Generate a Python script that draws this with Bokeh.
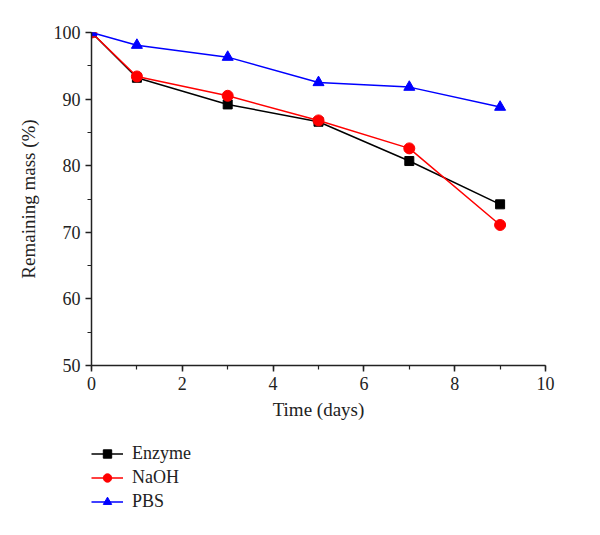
from bokeh.plotting import figure
from bokeh.layouts import column
from bokeh.models import Legend, LegendItem, FixedTicker, Range1d
from bokeh.embed import file_html
from bokeh.resources import INLINE

days = [0, 1, 3, 5, 7, 9]
enzyme = [100, 93.2, 89.2, 86.6, 80.7, 74.2]
naoh = [100, 93.4, 90.5, 86.8, 82.6, 71.1]
pbs = [100, 98.1, 96.3, 92.5, 91.8, 88.8]
series_names = ["Enzyme", "NaOH", "PBS"]

FONT = "Liberation Serif"

p = figure(width=584, height=435, output_backend="svg", toolbar_location=None,
           x_range=Range1d(0, 10), y_range=Range1d(50, 100),
           min_border_left=91, min_border_top=32, min_border_right=39,
           min_border_bottom=70)
p.outline_line_color = None
p.grid.visible = False
p.background_fill_color = "white"

for ax in (p.xaxis[0], p.yaxis[0]):
    ax.axis_line_color = "#222222"
    ax.axis_line_width = 1.5
    ax.major_tick_line_color = "#222222"
    ax.minor_tick_line_color = "#222222"
    ax.major_tick_line_width = 1.5
    ax.minor_tick_line_width = 1.2
    ax.major_tick_out = 6
    ax.major_tick_in = 0
    ax.minor_tick_out = 4
    ax.minor_tick_in = 0
    ax.major_label_text_font = FONT
    ax.major_label_text_font_size = "18px"
    ax.axis_label_text_font = FONT
    ax.axis_label_text_font_size = "19px"
    ax.axis_label_text_font_style = "normal"
    ax.major_label_text_color = "#222222"
    ax.axis_label_text_color = "#222222"

p.xaxis.ticker = FixedTicker(ticks=[0, 2, 4, 6, 8, 10], minor_ticks=list(range(0, 11)))
p.yaxis.ticker = FixedTicker(ticks=[50, 60, 70, 80, 90, 100], minor_ticks=list(range(50, 101, 5)))
p.xaxis.axis_label = "Time (days)"
p.yaxis.axis_label = "Remaining mass (%)"
p.xaxis.axis_label_standoff = 6
p.yaxis.axis_label_standoff = 12

styles = [("black", "square", 9), ("red", "circle", 11), ("blue", "triangle", 11)]
series = [enzyme, naoh, pbs]
for ys, (c, m, s) in zip(series, styles):
    p.line(days, ys, color=c, line_width=1.5)
    p.scatter(days, ys, marker=m, size=s, color=c)

# legend figure below the chart (its ranges keep the series out of view)
q = figure(width=584, height=100, output_backend="svg", toolbar_location=None,
           x_range=Range1d(0, 1), y_range=Range1d(0, 1),
           min_border_left=0, min_border_right=0, min_border_top=0, min_border_bottom=0)
q.axis.visible = False
q.grid.visible = False
q.outline_line_color = None

items = []
for name, ys, (c, m, s) in zip(series_names, series, styles):
    lr = q.line(days, ys, color=c, line_width=1.5)
    sr = q.scatter(days, ys, marker=m, size=s, color=c)
    items.append(LegendItem(label=name, renderers=[lr, sr]))

legend = Legend(items=items, location=(0, 23))
legend.label_text_font = FONT
legend.label_text_font_size = "18px"
legend.label_text_color = "#222222"
legend.border_line_color = None
legend.background_fill_alpha = 0
legend.spacing = 3
legend.padding = 0
legend.margin = 0
legend.glyph_width = 32
legend.glyph_height = 21
legend.label_height = 21
legend.label_standoff = 9
q.add_layout(legend, "center")

layout = column(p, q, spacing=0)
open("out.html", "w").write(file_html(layout, INLINE))
